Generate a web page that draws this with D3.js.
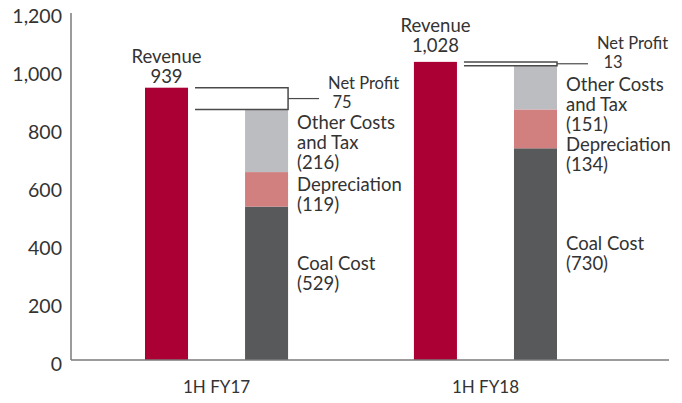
<!DOCTYPE html>
<html>
<head>
<meta charset="utf-8">
<script src="https://cdn.jsdelivr.net/npm/d3@7"></script>
<style>
  body { margin: 0; background: #fff; }
  svg text { font-family: Lato, "Open Sans", sans-serif; fill: #333; }
</style>
</head>
<body>
<script>
var categories = ['1H FY17', '1H FY18'],
  revenue = [939, 1028],
  coalCost = [529, 730],
  depreciation = [119, 134],
  otherCosts = [216, 151],
  netProfit = [75, 13],
  yTicks = [0, 200, 400, 600, 800, 1000, 1200];

var width = 682,
  height = 403,
  fontSize = 18.5,
  lineH = 20,
  colors = {
    revenue: '#ab0033',
    coal: '#58595b',
    depreciation: '#d27f7f',
    other: '#bcbdc0',
    axis: '#7a7a7a',
    bracket: '#4a4a4a'
  },
  // label nudges, px below the top of the segment they describe
  labelDy = {
    other: [20, 25],
    depreciation: [19, 42],
    coal: [63, 102],
    revenue: [-25, -30],
    profit: [1, -13],
    profitNum: [19, 19],
    profitNumX: [14, 16]
  };

var svg = d3.select('body').append('svg')
  .attr('width', width)
  .attr('height', height);

var y = d3.scaleLinear().domain([0, 1200]).range([360, 12]),
  x = d3.scaleBand().domain(categories).range([145, 557]).paddingInner(0.468),
  sub = d3.scaleBand().domain(['revenue', 'cost']).range([0, x.bandwidth()]).paddingInner(0.57);

// axes
svg.append('line').attr('x1', 71).attr('x2', 71).attr('y1', 13).attr('y2', y(0))
  .attr('stroke', colors.axis).attr('stroke-width', 1.5);

var yAxis = d3.axisLeft(y).tickValues(yTicks).tickSize(0).tickPadding(9)
  .tickFormat(d3.format(','));
var yG = svg.append('g').attr('transform', 'translate(71,0)').call(yAxis);
yG.select('.domain').remove();
yG.selectAll('text')
  .attr('font-size', 19.5)
  .attr('dy', '0.52em')
  .style('font-family', 'Lato, sans-serif')
  .attr('fill', '#333');

var xAxis = d3.axisBottom(x).tickSize(0).tickPadding(21);
var xG = svg.append('g').attr('transform', 'translate(0,' + y(0) + ')').call(xAxis);
xG.select('.domain').remove();
xG.selectAll('text')
  .attr('font-size', 17)
  .style('font-family', 'Lato, sans-serif')
  .attr('fill', '#333');

// bars
var groups = svg.selectAll('g.group').data(categories).enter().append('g')
  .attr('class', 'group')
  .attr('transform', function(d) { return 'translate(' + x(d) + ',0)'; });

groups.append('rect')
  .attr('x', sub('revenue'))
  .attr('width', sub.bandwidth())
  .attr('y', function(d, i) { return y(revenue[i]); })
  .attr('height', function(d, i) { return y(0) - y(revenue[i]); })
  .attr('fill', colors.revenue);

var stacks = ['coal', 'depreciation', 'other'],
  stackValues = {coal: coalCost, depreciation: depreciation, other: otherCosts};

groups.each(function(d, i) {
  var g = d3.select(this),
    base = 0;
  stacks.forEach(function(key) {
    var v = stackValues[key][i];
    g.append('rect')
      .attr('x', sub('cost'))
      .attr('width', sub.bandwidth())
      .attr('y', y(base + v))
      .attr('height', y(base) - y(base + v))
      .attr('fill', colors[key]);
    base += v;
  });
});

// base line on top of bars
svg.append('line').attr('x1', 71).attr('x2', 669).attr('y1', y(0)).attr('y2', y(0))
  .attr('stroke', colors.axis).attr('stroke-width', 1.5);

// net profit bracket
groups.each(function(d, i) {
  var g = d3.select(this),
    top = y(revenue[i]),
    bottom = y(revenue[i] - netProfit[i]),
    left = sub('revenue') + sub.bandwidth() + 7,
    right = sub('cost') + sub.bandwidth(),
    mid = (top + bottom) / 2;
  g.append('path')
    .attr('d', 'M' + left + ',' + top + 'H' + right + 'V' + bottom + 'H' + left)
    .attr('fill', 'none')
    .attr('stroke', colors.bracket)
    .attr('stroke-width', 1.5);
  g.append('line')
    .attr('x1', right).attr('x2', right + 31)
    .attr('y1', mid).attr('y2', mid)
    .attr('stroke', colors.bracket)
    .attr('stroke-width', 1.2);
});

// labels
function addLines(g, lines, xPos, yPos, anchor) {
  var t = g.append('text')
    .attr('font-size', fontSize)
    .attr('text-anchor', anchor || 'start');
  lines.forEach(function(line, k) {
    t.append('tspan').attr('x', xPos).attr('y', yPos + k * lineH).text(line);
  });
  return t;
}

var fmt = d3.format(',');

groups.each(function(d, i) {
  var g = d3.select(this),
    labX = sub('cost') + sub.bandwidth() + 9,
    revCenter = sub('revenue') + sub.bandwidth() / 2,
    top = y(revenue[i]),
    otherTop = y(coalCost[i] + depreciation[i] + otherCosts[i]),
    depTop = y(coalCost[i] + depreciation[i]),
    coalTop = y(coalCost[i]);

  addLines(g, ['Revenue', fmt(revenue[i])], revCenter, top + labelDy.revenue[i], 'middle');

  var npX = labX + 31,
    npY = top + labelDy.profit[i];
  addLines(g, ['Net Profit'], npX, npY).attr('font-size', 16.5);
  g.append('text').attr('font-size', 16.5)
    .attr('x', npX + labelDy.profitNumX[i]).attr('y', npY + labelDy.profitNum[i])
    .attr('text-anchor', 'middle')
    .text(fmt(netProfit[i]));

  addLines(g, ['Other Costs', 'and Tax', '(' + otherCosts[i] + ')'], labX, otherTop + labelDy.other[i]);
  addLines(g, ['Depreciation', '(' + depreciation[i] + ')'], labX, depTop + labelDy.depreciation[i]);
  addLines(g, ['Coal Cost', '(' + coalCost[i] + ')'], labX, coalTop + labelDy.coal[i]);
});
</script>
</body>
</html>
